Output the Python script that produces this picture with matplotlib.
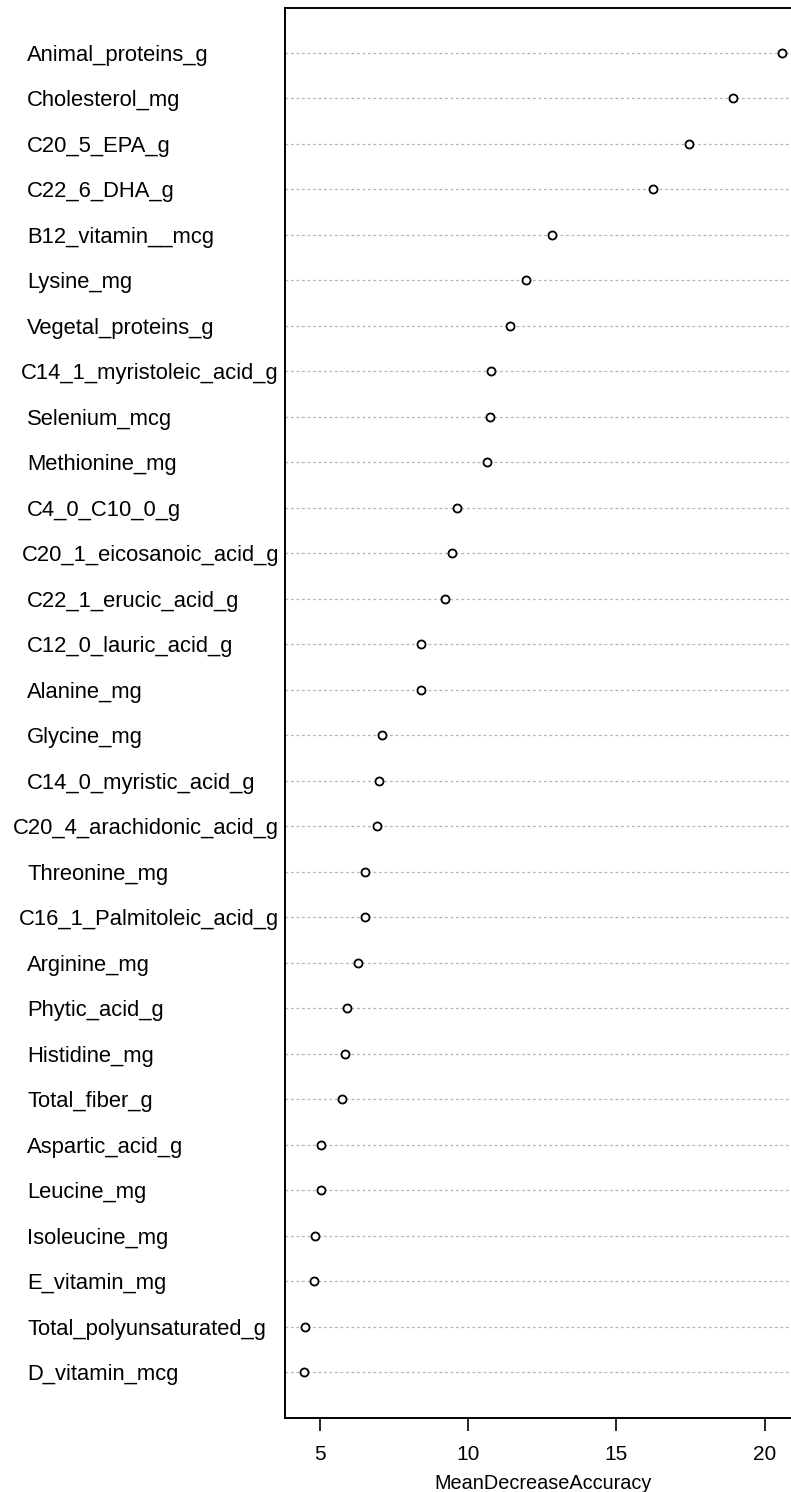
import matplotlib
matplotlib.use('Agg')
from matplotlib import pyplot as plt
from matplotlib.transforms import blended_transform_factory, offset_copy

# variable importance, top of the chart first
variables = [
    'Animal_proteins_g', 'Cholesterol_mg', 'C20_5_EPA_g', 'C22_6_DHA_g',
    'B12_vitamin__mcg', 'Lysine_mg', 'Vegetal_proteins_g',
    'C14_1_myristoleic_acid_g', 'Selenium_mcg', 'Methionine_mg',
    'C4_0_C10_0_g', 'C20_1_eicosanoic_acid_g', 'C22_1_erucic_acid_g',
    'C12_0_lauric_acid_g', 'Alanine_mg', 'Glycine_mg',
    'C14_0_myristic_acid_g', 'C20_4_arachidonic_acid_g', 'Threonine_mg',
    'C16_1_Palmitoleic_acid_g', 'Arginine_mg', 'Phytic_acid_g',
    'Histidine_mg', 'Total_fiber_g', 'Aspartic_acid_g', 'Leucine_mg',
    'Isoleucine_mg', 'E_vitamin_mg', 'Total_polyunsaturated_g',
    'D_vitamin_mcg',
]
mean_decrease_accuracy = [
    20.60, 18.94, 17.45, 16.22, 12.83, 11.94, 11.39, 10.77, 10.72, 10.62,
    9.61, 9.45, 9.22, 8.39, 8.39, 7.07, 7.00, 6.90, 6.52, 6.52,
    6.28, 5.91, 5.84, 5.72, 5.01, 5.01, 4.83, 4.78, 4.48, 4.44,
]
x_ticks = [5, 10, 15, 20]

W, H = 791, 1492
fig = plt.figure(figsize=(W / 100, H / 100), dpi=100)
plt.rcParams['font.family'] = ['Liberation Sans', 'DejaVu Sans']

ax = fig.add_axes([284.5 / W, (H - 1417.7) / H, (801.5 - 284.5) / W, (1417.7 - 7.5) / H])

n = len(variables)
ypos = list(range(n, 0, -1))

for y in ypos:
    ax.axhline(y, color='#b4b4b4', lw=0.9, ls=(0, (2.2, 2.2)), zorder=1)
ax.plot(mean_decrease_accuracy, ypos, 'o', ls='none', mfc='white', mec='black',
        ms=5.8, mew=1.3, zorder=3, clip_on=False)

lo, hi = min(mean_decrease_accuracy), max(mean_decrease_accuracy)
pad = (hi - lo) * 0.04
ax.set_xlim(lo - pad, hi + pad)
ax.set_ylim(0, n + 1)

ax.set_yticks([])
ax.set_xticks(x_ticks)
ax.set_xticklabels([str(t) for t in x_ticks], fontsize=15)
ax.tick_params(axis='x', length=9, width=1.2, pad=11, direction='out')
ax.set_xlabel('MeanDecreaseAccuracy', fontsize=14.3, labelpad=7)
for s in ax.spines.values():
    s.set_linewidth(1.4)

trans = blended_transform_factory(fig.transFigure, ax.transData)
trans = offset_copy(trans, fig=fig, y=-2.5, units='dots')
texts = [ax.text(27 / W, y, lab, transform=trans, ha='left', va='center',
                 fontsize=15.8, clip_on=False)
         for lab, y in zip(variables, ypos)]

# long labels get pushed left so they stop short of the axis
fig.canvas.draw()
r = fig.canvas.get_renderer()
for t in texts:
    bb = t.get_window_extent(r)
    if bb.x1 > 279:
        t.set_x((27 - (bb.x1 - 279)) / W)

fig.savefig('out.png', dpi=100)
